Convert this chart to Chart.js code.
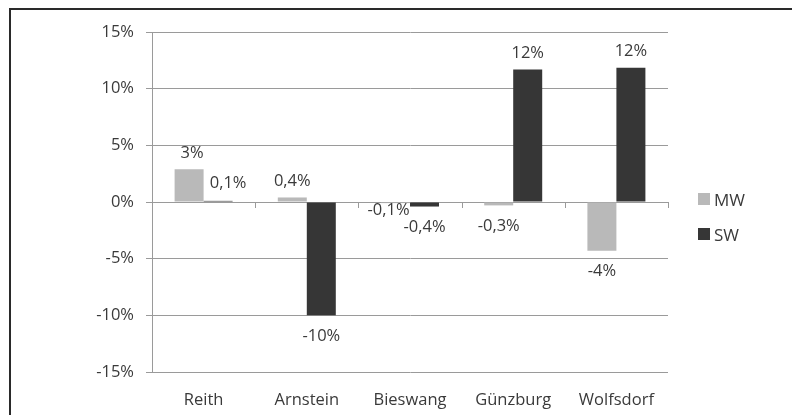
<!DOCTYPE html>
<html>
<head>
<meta charset="utf-8">
<script src="https://cdn.jsdelivr.net/npm/chart.js@4/dist/chart.umd.min.js"></script>
<style>
  body { margin: 0; background: #fff; font-family: "Open Sans", sans-serif; }
  .frame { position: absolute; left: 9px; top: 8px; width: 800px; height: 420px; border: 2px solid #2a2a2a; box-sizing: border-box; }
  #chart { position: absolute; left: 0; top: 0; }
  .legend-item { position: absolute; left: 698px; height: 12px; display: flex; align-items: center; font-size: 17px; color: #3a3a3a; }
  .legend-item span.box { width: 12px; height: 12px; margin-right: 4px; display: inline-block; }
</style>
</head>
<body>
<div class="frame"></div>
<canvas id="chart" width="792" height="415"></canvas>
<div class="legend-item" style="top:193px"><span class="box" style="background:#b9b9b9"></span>MW</div>
<div class="legend-item" style="top:228px"><span class="box" style="background:#363636"></span>SW</div>
<script>
const categories = ['Reith', 'Arnstein', 'Bieswang', 'Günzburg', 'Wolfsdorf'];
const mwValues = [2.9, 0.4, -0.1, -0.3, -4.3];
const swValues = [0.1, -10.0, -0.4, 11.7, 11.85];
const mwLabels = ['3%', '0,4%', '-0,1%', '-0,3%', '-4%'];
const swLabels = ['0,1%', '-10%', '-0,4%', '12%', '12%'];
const yTicks = [-15, -10, -5, 0, 5, 10, 15];

// small manual nudges for labels that Excel moved aside
const mwLabelNudge = [[3, 0], [0, 0], [-7, -14], [0, 0], [0, 0]];
const swLabelNudge = [[10, -2], [0, 0], [0, 0], [0, 0], [0, 0]];

const textColor = '#3a3a3a';
const gridColor = '#9a9a9a';
const fontSize = 16.5;

const valueLabels = {
  id: 'valueLabels',
  afterDatasetsDraw(chart) {
    const ctx = chart.ctx;
    ctx.save();
    ctx.font = fontSize + 'px "Open Sans"';
    ctx.fillStyle = textColor;
    ctx.textAlign = 'center';
    ctx.textBaseline = 'middle';
    chart.data.datasets.forEach((ds, di) => {
      const meta = chart.getDatasetMeta(di);
      meta.data.forEach((bar, i) => {
        const v = ds.data[i];
        const nudge = ds.nudge[i];
        const y = v >= 0 ? bar.y - 16 : bar.y + 21;
        ctx.fillText(ds.labels[i], bar.x + nudge[0], y + nudge[1]);
      });
    });
    ctx.restore();
  }
};

// tick marks on the 0 line between categories
const zeroTicks = {
  id: 'zeroTicks',
  afterDatasetsDraw(chart) {
    const ctx = chart.ctx;
    const x = chart.scales.x;
    const y0 = chart.scales.y.getPixelForValue(0);
    ctx.save();
    ctx.strokeStyle = gridColor;
    ctx.lineWidth = 1;
    for (let i = 1; i <= categories.length; i++) {
      let px;
      if (i == categories.length) px = chart.chartArea.right;
      else px = (x.getPixelForValue(i - 1) + x.getPixelForValue(i)) / 2;
      px = Math.round(px) + 0.5;
      ctx.beginPath();
      ctx.moveTo(px, y0);
      ctx.lineTo(px, y0 + 6);
      ctx.stroke();
    }
    ctx.restore();
  }
};

new Chart(document.getElementById('chart'), {
  type: 'bar',
  data: {
    labels: categories,
    datasets: [
      { label: 'MW', data: mwValues, labels: mwLabels, nudge: mwLabelNudge, backgroundColor: '#b9b9b9' },
      { label: 'SW', data: swValues, labels: swLabels, nudge: swLabelNudge, backgroundColor: '#363636' }
    ]
  },
  options: {
    responsive: false,
    animation: false,
    layout: { padding: { top: 32, right: 124, bottom: 0, left: 0 } },
    datasets: { bar: { categoryPercentage: 0.562, barPercentage: 1 } },
    plugins: { legend: { display: false }, tooltip: { enabled: false } },
    scales: {
      x: {
        grid: { display: false },
        border: { display: false },
        ticks: { color: textColor, font: { family: 'Open Sans', size: fontSize }, padding: 10, maxRotation: 0 },
        afterFit: s => { s.height = 43; }
      },
      y: {
        min: -15,
        max: 15,
        afterBuildTicks: s => { s.ticks = yTicks.map(v => ({ value: v })); },
        grid: { color: gridColor, tickLength: 6 },
        border: { color: gridColor },
        ticks: { color: textColor, font: { family: 'Open Sans', size: fontSize }, padding: 12, callback: v => v + '%' },
        afterFit: s => { s.width = 152; }
      }
    }
  },
  plugins: [valueLabels, zeroTicks]
});
</script>
</body>
</html>
